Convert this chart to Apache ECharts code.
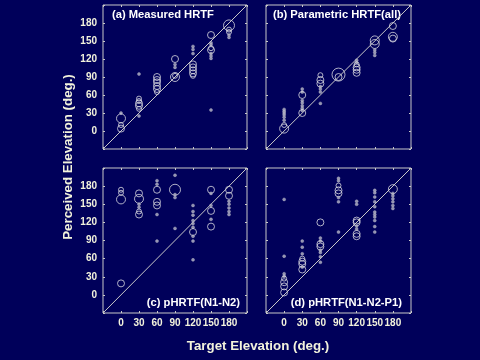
<!DOCTYPE html>
<html>
<head>
<meta charset="utf-8">
<script src="https://cdn.jsdelivr.net/npm/echarts@6/dist/echarts.min.js"></script>
<style>
html,body{margin:0;padding:0;background:#00005a;}
#chart{width:480px;height:360px;}
</style>
</head>
<body>
<div id="chart"></div>
<script>
// Data: [target elevation, perceived elevation, response-count class]
const tickValues = [0, 30, 60, 90, 120, 150, 180];
const panelTitles = ['(a) Measured HRTF', '(b) Parametric HRTF(all)', '(c) pHRTF(N1-N2)', '(d) pHRTF(N1-N2-P1)'];
const xAxisTitle = 'Target Elevation (deg.)';
const yAxisTitle = 'Perceived Elevation (deg.)';
const diagonal = [[-30, -30], [210, 210]];

const panelA = [
  [0,30,1],[0,21,4],[0,10,2],[0,4,3],
  [30,95,1],[30,54,2],[30,50,2],[30,46,3],[30,42,3],[30,37,2],[30,25,1],
  [60,90,3],[60,85,3],[60,81,3],[60,75,3],[60,70,3],[60,65,2],
  [90,120,3],[90,111,1],[90,106,1],[90,92,2],[90,90,4],
  [120,141,1],[120,136,1],[120,129,1],[120,111,3],[120,106,3],[120,101,3],[120,96,3],[120,92,2],
  [150,160,3],[150,147,1],[150,144,1],[150,138,2],[150,135,3],[150,129,1],[150,125,1],[150,121,1],[150,35,1],
  [180,176,5],[180,169,2],[180,165,2],[180,160,1],[180,156,1]
];
const panelB = [
  [0,36,1],[0,33,1],[0,30,1],[0,27,1],[0,23,1],[0,18,1],[0,10,2],[0,4,4],
  [30,70,1],[30,65,1],[30,60,3],[30,51,1],[30,47,1],[30,42,1],[30,38,1],[30,34,1],[30,30,3],
  [60,93,2],[60,85,3],[60,79,3],[60,74,1],[60,70,1],[60,65,1],[60,46,1],
  [90,94,6],[90,90,3],
  [120,118,1],[120,114,1],[120,111,2],[120,106,3],[120,102,3],[120,97,3],
  [150,151,4],[150,145,4],[150,135,1],[150,131,1],[150,126,1],
  [180,175,3],[180,157,4],[180,154,3]
];
const panelC = [
  [0,174,2],[0,169,2],[0,158,4],[0,19,3],
  [30,168,3],[30,159,4],[30,150,1],[30,145,1],[30,138,2],[30,133,3],
  [60,189,1],[60,183,1],[60,174,3],[60,154,3],[60,148,3],[60,133,1],[60,89,1],
  [90,198,1],[90,174,5],[90,166,1],[90,161,1],[90,110,1],
  [120,148,1],[120,138,1],[120,132,1],[120,123,1],[120,118,1],[120,112,1],[120,104,3],[120,97,1],[120,89,1],[120,58,1],
  [150,174,3],[150,168,1],[150,148,1],[150,139,3],[150,125,1],[150,113,3],
  [180,174,3],[180,164,3],[180,155,1],[180,150,1],[180,144,1],[180,138,1],[180,133,1]
];
const panelD = [
  [0,158,1],[0,64,1],[0,35,1],[0,31,1],[0,27,2],[0,21,3],[0,14,3],[0,4,3],
  [30,89,1],[30,79,1],[30,68,1],[30,60,2],[30,55,3],[30,51,3],[30,46,1],[30,42,3],
  [60,120,3],[60,94,1],[60,89,1],[60,84,3],[60,80,3],[60,74,1],[60,70,1],[60,63,1],[60,54,1],
  [90,193,1],[90,189,1],[90,181,2],[90,173,3],[90,168,3],[90,161,1],[90,154,1],[90,104,1],
  [120,155,1],[120,150,1],[120,123,3],[120,120,3],[120,114,1],[120,109,1],[120,101,3],[120,97,3],
  [150,173,1],[150,169,1],[150,162,1],[150,154,1],[150,146,1],[150,137,1],[150,133,1],[150,129,1],[150,123,1],[150,113,1],[150,104,1],
  [180,175,4],[180,168,1],[180,164,1],[180,159,1],[180,154,1],[180,148,1],[180,143,1]
];
const panels = [panelA, panelB, panelC, panelD];

const FONT = "'Liberation Sans', Arial, sans-serif";
const LINE = '#c8c8c8';
const TEXT = '#f2f2dc';
const sizeOf = {1: 3, 2: 5, 3: 7, 4: 9, 5: 11, 6: 13};

const grids = [
  {left: 103, top: 5, width: 144, height: 144},
  {left: 266, top: 5, width: 145, height: 144},
  {left: 103, top: 168, width: 144, height: 145},
  {left: 266, top: 168, width: 145, height: 145}
].map(g => Object.assign(g, {show: true, borderColor: LINE, borderWidth: 1, backgroundColor: 'transparent', containLabel: false, outerBoundsMode: 'none'}));

const xAxes = [], yAxes = [];
const fmt = v => (tickValues.indexOf(v) >= 0 ? String(v) : '');
grids.forEach((g, i) => {
  const showX = i >= 2, showY = (i % 2) === 0;
  const base = {gridIndex: i, type: 'value', min: -30, max: 210, interval: 30,
    axisLine: {show: false, onZero: false}, splitLine: {show: false},
    axisTick: {show: true, inside: true, length: 2, lineStyle: {color: LINE, width: 1}}};
  xAxes.push(Object.assign({}, base, {position: 'bottom',
    axisLabel: {show: showX, formatter: fmt, color: TEXT, fontSize: 10, fontWeight: 'bold', fontFamily: FONT, margin: 5}}));
  xAxes.push(Object.assign({}, base, {position: 'top', axisLabel: {show: false}}));
  yAxes.push(Object.assign({}, base, {position: 'left',
    axisLabel: {show: showY, formatter: fmt, color: TEXT, fontSize: 10, fontWeight: 'bold', fontFamily: FONT, margin: 6}}));
  yAxes.push(Object.assign({}, base, {position: 'right', axisLabel: {show: false}}));
});

const series = [];
panels.forEach((pts, i) => {
  series.push({type: 'line', xAxisIndex: i * 2, yAxisIndex: i * 2, data: diagonal, symbol: 'none', silent: true,
    lineStyle: {color: LINE, width: 1}, z: 1, animation: false});
  series.push({type: 'scatter', xAxisIndex: i * 2, yAxisIndex: i * 2, z: 2, animation: false,
    data: pts.map(p => ({
      value: [p[0], p[1]],
      symbolSize: sizeOf[p[2]],
      itemStyle: p[2] === 1
        ? {color: '#b8b8c8', borderColor: '#b8b8c8', borderWidth: 0.5}
        : {color: 'rgba(0,0,0,0)', borderColor: '#d8d8e0', borderWidth: 1}
    }))});
});

const titleStyle = {fill: '#ffffff', font: "bold 11.2px " + FONT};
const graphic = [
  {type: 'text', x: 112, y: 14.5, style: Object.assign({text: panelTitles[0], textAlign: 'left', textVerticalAlign: 'middle'}, titleStyle)},
  {type: 'text', x: 401, y: 14.5, style: Object.assign({text: panelTitles[1], textAlign: 'right', textVerticalAlign: 'middle'}, titleStyle)},
  {type: 'text', x: 240, y: 302.5, style: Object.assign({text: panelTitles[2], textAlign: 'right', textVerticalAlign: 'middle'}, titleStyle)},
  {type: 'text', x: 402, y: 302.5, style: Object.assign({text: panelTitles[3], textAlign: 'right', textVerticalAlign: 'middle'}, titleStyle)},
  {type: 'text', x: 258, y: 346, style: {text: xAxisTitle, textAlign: 'center', textVerticalAlign: 'middle', fill: TEXT, font: "bold 13.3px " + FONT}},
  {type: 'text', x: 68, y: 157, rotation: Math.PI / 2, style: {text: yAxisTitle, textAlign: 'center', textVerticalAlign: 'middle', fill: TEXT, font: "bold 13.3px " + FONT}}
];

const chart = echarts.init(document.getElementById('chart'), null, {renderer: 'canvas'});
chart.setOption({
  backgroundColor: '#00005a',
  animation: false,
  grid: grids,
  xAxis: xAxes,
  yAxis: yAxes,
  series: series,
  graphic: graphic
});
</script>
</body>
</html>
